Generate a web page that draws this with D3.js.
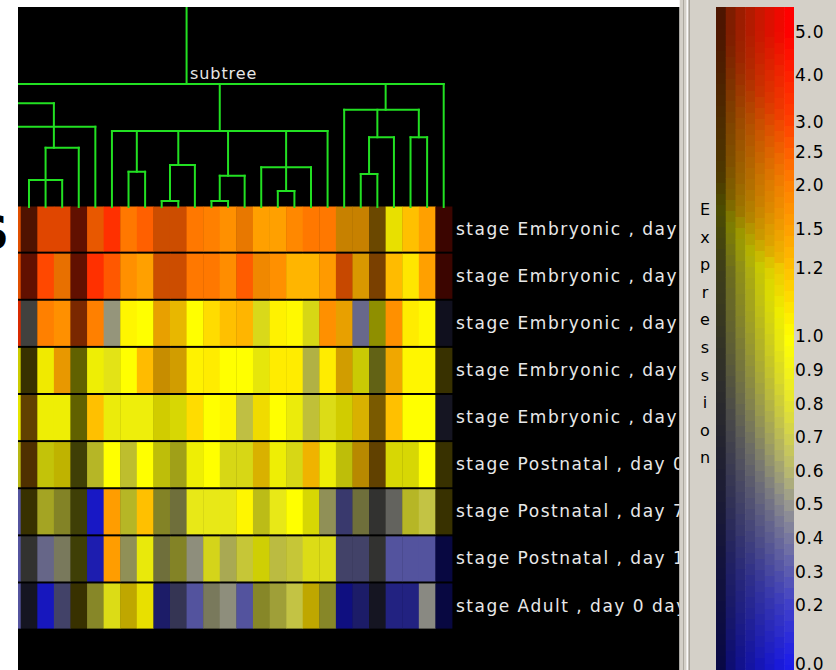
<!DOCTYPE html>
<html>
<head>
<meta charset="utf-8">
<script src="https://cdn.jsdelivr.net/npm/d3@7"></script>
<style>
  html, body { margin: 0; padding: 0; background: #ffffff; overflow: hidden; }
  svg { display: block; }
  text { font-family: "DejaVu Sans", Verdana, sans-serif; }
</style>
</head>
<body>
<svg id="chart" width="836" height="670"></svg>
<script>
// ---- data -----------------------------------------------------------------
const sampleLabels = [
  "stage Embryonic , day 11.5 days",
  "stage Embryonic , day 12.5 days",
  "stage Embryonic , day 13.5 days",
  "stage Embryonic , day 15.5 days",
  "stage Embryonic , day 17.5 days",
  "stage Postnatal , day 0 days",
  "stage Postnatal , day 7 days",
  "stage Postnatal , day 14 days",
  "stage Adult , day 0 days"
];

// normalised expression, one row per sample, one entry per gene column
const expression = [
  [2.6, 3.2, 2.75, 2.75, 3.7, 2.48, 3.5, 2.12, 2.5, 2.5, 2.5, 2.12, 2.0, 1.75, 1.94, 1.5, 1.5, 1.87, 2.12, 2.12, 1.45, 1.45, 1.4, 1.03, 1.2, 1.5, 4.3],
  [2.6, 3.7, 2.87, 2.08, 3.7, 3.5, 2.62, 1.75, 1.5, 2.5, 2.5, 2.12, 2.12, 1.8, 2.56, 1.73, 1.75, 1.3, 1.3, 1.6, 2.56, 1.32, 1.9, 1.25, 1.08, 1.5, 4.3],
  [3.5, 0.5, 2.0, 1.75, 2.7, 2.0, 0.53, 1.03, 1.0, 1.35, 1.17, 1.0, 1.11, 1.2, 1.3, 0.88, 1.04, 1.02, 0.9, 1.75, 1.35, 0.4, 1.0, 1.75, 1.06, 1.02, 0.3],
  [1.0, 1.1, 1.02, 1.43, 1.0, 0.98, 0.9, 1.0, 1.25, 1.3, 1.2, 1.04, 1.06, 1.0, 1.0, 0.95, 1.06, 1.06, 0.7, 1.06, 1.2, 0.98, 0.8, 1.33, 1.03, 1.03, 1.1],
  [1.0, 1.4, 0.98, 0.98, 1.0, 1.2, 0.95, 0.95, 0.95, 1.02, 0.98, 1.11, 1.0, 1.03, 0.72, 1.07, 1.0, 0.95, 0.75, 0.9, 1.02, 1.15, 1.25, 1.2, 1.0, 1.0, 0.35],
  [0.9, 1.6, 0.95, 1.05, 0.9, 0.8, 1.0, 0.78, 1.0, 0.95, 0.85, 0.98, 1.0, 0.9, 0.9, 1.15, 0.98, 0.9, 1.22, 0.98, 0.95, 1.22, 1.4, 0.98, 0.98, 1.0, 1.1],
  [0.3, 1.1, 0.8, 0.75, 0.9, 0.0, 1.55, 0.8, 1.2, 0.75, 0.63, 0.9, 0.9, 0.9, 1.03, 0.88, 0.9, 1.0, 0.98, 0.6, 0.3, 0.63, 0.5, 0.5, 0.8, 0.72, 1.1],
  [0.3, 0.5, 0.4, 0.55, 0.9, 0.05, 1.55, 0.6, 0.95, 0.63, 0.75, 0.52, 0.88, 0.65, 0.76, 0.98, 0.72, 0.76, 0.9, 0.9, 0.35, 0.35, 0.5, 0.3, 0.3, 0.3, 0.0],
  [0.3, 0.35, 0.0, 0.35, 1.1, 0.75, 0.9, 1.1, 1.03, 0.15, 0.35, 0.3, 0.55, 0.52, 0.3, 0.75, 0.72, 0.72, 1.1, 0.75, 0.0, 0.15, 0.35, 0.15, 0.15, 0.5, 0.0]
];

// measurement trust, drawn as brightness (1 = full colour)
const trust = [
  [0.88, 0.31, 0.88, 0.88, 0.38, 0.91, 1, 1, 1, 0.8, 0.8, 1, 1, 1, 0.91, 1, 1, 1, 1, 1, 0.78, 0.78, 0.42, 0.91, 1, 1, 0.23],
  [0.88, 0.38, 1, 0.91, 0.38, 1, 1, 1, 1, 0.8, 0.8, 1, 1, 1, 1, 0.94, 1, 1, 1, 1, 0.78, 0.85, 0.48, 1, 1, 1, 0.23],
  [0.85, 0.43, 1, 1, 0.48, 1, 0.92, 1, 1, 0.91, 0.91, 1, 1, 1, 1, 0.9, 1, 1, 0.88, 1, 0.91, 0.87, 0.56, 1, 1, 1, 0.17],
  [0.8, 0.22, 0.94, 0.91, 0.38, 0.94, 0.93, 1, 1, 0.78, 0.82, 1, 1, 1, 1, 0.92, 1, 1, 0.85, 1, 0.82, 0.8, 0.43, 0.94, 1, 1, 0.22],
  [0.9, 0.38, 0.94, 0.94, 0.38, 1, 0.94, 0.95, 0.95, 0.82, 0.85, 1, 1, 1, 0.9, 0.94, 1, 0.94, 0.88, 0.9, 0.82, 0.85, 0.48, 1, 1, 1, 0.2],
  [0.75, 0.31, 0.78, 0.75, 0.26, 0.8, 1, 0.85, 1, 0.76, 0.68, 0.94, 1, 0.88, 0.88, 0.85, 0.94, 0.88, 0.94, 0.94, 0.76, 0.72, 0.38, 0.85, 0.85, 1, 0.22],
  [0.9, 0.22, 0.72, 0.6, 0.26, 0.85, 1, 0.8, 1, 0.6, 0.58, 0.95, 0.95, 0.95, 1, 0.78, 0.95, 1, 0.85, 0.78, 0.62, 0.58, 0.33, 0.65, 0.8, 0.92, 0.22],
  [0.9, 0.33, 0.85, 0.72, 0.26, 0.78, 1, 0.78, 0.93, 0.58, 0.6, 0.9, 0.88, 0.86, 0.9, 0.82, 0.88, 0.9, 0.9, 0.9, 0.62, 0.62, 0.33, 0.9, 0.9, 0.9, 0.28],
  [0.9, 0.2, 0.82, 0.62, 0.22, 0.62, 0.9, 0.75, 0.91, 0.5, 0.5, 0.9, 0.72, 0.9, 0.9, 0.62, 0.75, 0.92, 0.75, 0.62, 0.55, 0.5, 0.2, 0.62, 0.62, 0.9, 0.28]
];

// gene order of the subtree: five genes scrolled off to the left, then the 27 columns
const geneOrder = d3.range(-5, 27);

// colour ramp for expression values
const rampValues = [0, 0.1, 0.2, 0.3, 0.4, 0.5, 0.6, 0.7, 0.8, 0.9, 1.0, 1.2, 1.5, 2.0, 2.5, 3.0, 4.0, 5.0];
const rampColors = ["#1c1ce8", "#2e2ed8", "#4040c8", "#5c5cb0", "#7878a0", "#989890", "#b8b870", "#d0d050",
                    "#e4e430", "#f4f418", "#ffff00", "#ffc000", "#ffa000", "#ff8000", "#ff6000", "#ff4000", "#ff2000", "#ff0000"];

const legendTicks = [5.0, 4.0, 3.0, 2.5, 2.0, 1.5, 1.2, 1.0, 0.9, 0.8, 0.7, 0.6, 0.5, 0.4, 0.3, 0.2, 0.0];
const legendTitle = "Expression";
const treeLabel = "subtree";

// dendrogram: merge heights are relative distances (root = 1)
const leaf = i => ({ leaf: i });
const node = (h, ...children) => ({ h, children });
const tree = node(1.0,
  node(0.653,
    node(0.843,
      node(0.45, leaf(-5), leaf(-4), leaf(-3), leaf(-2), leaf(-1), leaf(0)),
      node(0.482, node(0.22, leaf(1), leaf(2), leaf(3)), leaf(4))),
    leaf(5)),
  node(0.618,
    leaf(6),
    node(0.287, leaf(7), leaf(8)),
    node(0.341, node(0.049, leaf(9), leaf(10)), leaf(11)),
    node(0.254, node(0.049, leaf(12), leaf(13)), leaf(14)),
    node(0.323, leaf(15), node(0.13, leaf(16), leaf(17)), leaf(18)),
    leaf(19)),
  node(0.791,
    leaf(20),
    node(0.567, node(0.268, leaf(21), leaf(22)), leaf(23)),
    node(0.567, leaf(24), leaf(25))),
  leaf(26));

// ---- layout -----------------------------------------------------------------
const W = 836, H = 670;
const panel = { x: 18, y: 7, right: 679.5 };
const heat = { firstCol: 20.7, right: 452, top: 206.5, bottom: 628.6 };
const bar = { x: 716, w: 78, top: 7, bottom: H };

const svg = d3.select("#chart");
svg.append("rect").attr("width", W).attr("height", H).attr("fill", "#ffffff");

// partially visible heading glyph at the far left
svg.append("text").attr("x", 9).attr("y", 249).attr("text-anchor", "end")
  .attr("font-family", "'Liberation Sans', Arial, sans-serif").attr("font-weight", "bold")
  .attr("font-size", 47).attr("fill", "#000").text("S");

// main black panel
svg.append("rect").attr("x", panel.x).attr("y", panel.y)
  .attr("width", panel.right - panel.x).attr("height", H - panel.y).attr("fill", "#000");

const defs = svg.append("defs");
defs.append("clipPath").attr("id", "panelClip").append("rect")
  .attr("x", panel.x).attr("y", panel.y).attr("width", panel.right - panel.x).attr("height", H - panel.y);

// scales
const colStep = (heat.right - heat.firstCol) / 26;
const x = d3.scaleBand().domain(geneOrder)
  .range([heat.firstCol - 6 * colStep, heat.right]).padding(0);
const y = d3.scaleBand().domain(d3.range(sampleLabels.length))
  .range([heat.top, heat.bottom]).paddingInner(0.042).paddingOuter(0);
const distY = d3.scaleLinear().domain([0, 1]).range([207, 84]);

const ramp = d3.scaleLinear().domain(rampValues).range(rampColors)
  .interpolate(d3.interpolateRgb).clamp(true);
const shade = (v, t) => {
  const c = d3.rgb(ramp(v));
  return d3.rgb(c.r * t, c.g * t, c.b * t).formatHex();
};

const plot = svg.append("g").attr("clip-path", "url(#panelClip)");

// heatmap cells
const cells = [];
expression.forEach((row, r) => row.forEach((v, c) => cells.push({ r, c, v, t: trust[r][c] })));
plot.append("g").selectAll("rect").data(cells).join("rect")
  .attr("x", d => x(d.c))
  .attr("y", d => y(d.r))
  .attr("width", x.bandwidth() + 0.4)
  .attr("height", y.bandwidth())
  .attr("fill", d => shade(d.v, d.t));

// dendrogram
function layout(n) {
  if (n.leaf !== undefined) {
    n.x = x(n.leaf) + x.bandwidth() / 2; n.h = 0; n.leaves = [n.x];
  } else {
    n.children.forEach(layout);
    n.leaves = n.children.flatMap(ch => ch.leaves);
    n.x = d3.mean(n.leaves);
  }
  return n;
}
layout(tree);

const segs = [];
(function collect(n) {
  if (!n.children) return;
  const xs = n.children.map(ch => ch.x);
  segs.push([d3.min(xs), distY(n.h), d3.max(xs), distY(n.h)]);
  n.children.forEach(ch => {
    segs.push([ch.x, distY(n.h), ch.x, distY(ch.h)]);
    collect(ch);
  });
})(tree);
segs.push([tree.x, distY(tree.h), tree.x, panel.y]);

plot.append("g").selectAll("line").data(segs).join("line")
  .attr("x1", d => d[0]).attr("y1", d => d[1])
  .attr("x2", d => d[2]).attr("y2", d => d[3])
  .attr("stroke", "#22e022").attr("stroke-width", 2).attr("stroke-linecap", "square");

plot.append("text").attr("x", tree.x + 3.5).attr("y", distY(tree.h) - 5.5)
  .attr("font-size", 16).attr("letter-spacing", 0.9).attr("fill", "#e6e6e6").text(treeLabel);

// sample labels
plot.append("g").selectAll("text").data(sampleLabels).join("text")
  .attr("x", heat.right + 4)
  .attr("y", (d, i) => y(i) + y.bandwidth() / 2 + 5.5)
  .attr("font-size", 17).attr("letter-spacing", 1.5).attr("fill", "#e8e8e8")
  .text(d => d);

// ---- legend panel ---------------------------------------------------------------
svg.append("rect").attr("x", panel.right).attr("y", 0)
  .attr("width", W - panel.right).attr("height", H).attr("fill", "#d4d0c8");
[[683.5, "#aca89f", 1], [687.2, "#ffffff", 1.4], [689.3, "#9c988f", 1]].forEach(([lx, col, sw]) =>
  svg.append("line").attr("x1", lx).attr("x2", lx).attr("y1", 0).attr("y2", H)
    .attr("stroke", col).attr("stroke-width", sw));

// value axis of the colour bar (uneven spacing, as in the legend)
const legendY = d3.scaleLinear()
  .domain([0.0, 0.2, 0.3, 0.4, 0.5, 0.6, 0.7, 0.8, 0.9, 1.0, 1.2, 1.5, 2.0, 2.5, 3.0, 4.0, 5.0])
  .range([664, 605, 572, 538, 504, 471, 437, 404, 370, 336, 268, 229, 185, 152, 122, 75, 32])
  .clamp(true);

// bar: columns run from low trust (dark, left) to full trust (right);
// low-trust columns also pull the value towards zero, which tilts the colour bands
defs.append("clipPath").attr("id", "barClip").append("rect")
  .attr("x", bar.x).attr("y", bar.top).attr("width", bar.w).attr("height", bar.bottom - bar.top);
const nCols = 8, stepH = 11, colW = bar.w / nCols;
const barCells = [];
for (let c = 0; c < nCols; c++) {
  const f = c / (nCols - 1);
  const t = 0.3 + 0.7 * Math.pow(f, 0.65);
  const pull = 0.58 + 0.42 * f;
  const offset = (c * 5) % stepH;
  for (let k = -1; bar.top + k * stepH - offset < bar.bottom; k++) {
    const yy = bar.top + k * stepH - offset;
    barCells.push({ c, yy, v: legendY.invert(yy + stepH / 2) * pull, t });
  }
}
svg.append("g").attr("clip-path", "url(#barClip)").selectAll("rect").data(barCells).join("rect")
  .attr("x", d => bar.x + d.c * colW).attr("y", d => d.yy)
  .attr("width", colW + 0.5).attr("height", stepH + 0.5)
  .attr("fill", d => shade(d.v, d.t));

svg.append("g").selectAll("text").data(legendTicks).join("text")
  .attr("x", bar.x + bar.w + 1)
  .attr("y", d => legendY(d) + 6.2)
  .attr("font-size", 17).attr("letter-spacing", 0.8).attr("fill", "#000")
  .text(d => d.toFixed(1));

// vertical legend title, one letter per line
svg.append("text").attr("x", 705).attr("y", 215)
  .attr("text-anchor", "middle").attr("font-size", 16).attr("fill", "#000")
  .selectAll("tspan").data(legendTitle.split("")).join("tspan")
  .attr("x", 705).attr("dy", (d, i) => i === 0 ? 0 : 27.6)
  .text(d => d);

// white strip along the top of the window
svg.append("rect").attr("x", 0).attr("y", 0).attr("width", panel.right).attr("height", panel.y).attr("fill", "#ffffff");
</script>
</body>
</html>
